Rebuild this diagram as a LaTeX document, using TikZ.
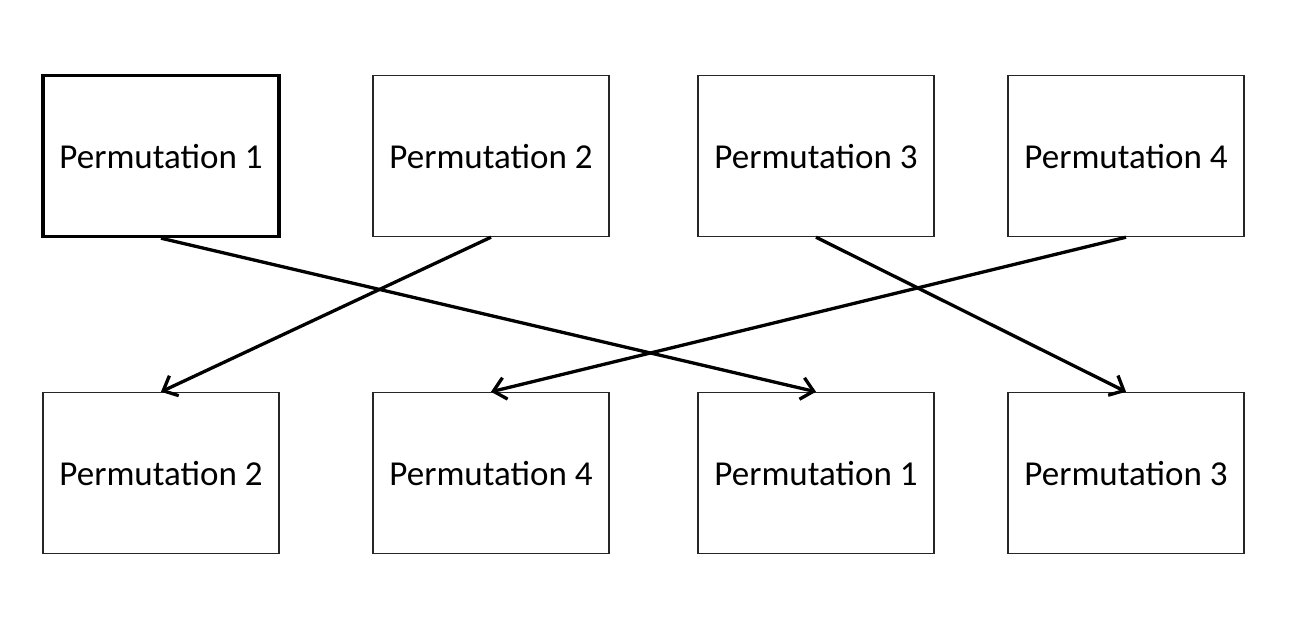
\documentclass[tikz,border=0pt]{standalone}
\usepackage{fontspec}
\setmainfont{Carlito}
\usetikzlibrary{arrows.meta}
\begin{document}
\begin{tikzpicture}[x=1pt,y=-1pt,
  permbox/.style={draw=black!85,line width=1.4pt,minimum width=236pt,minimum height=161pt,inner sep=0pt,text depth=0pt,font=\fontsize{35}{40}\selectfont},
  boldbox/.style={permbox,draw=black,line width=3.4pt},
  link/.style={line width=3.3pt,-{Straight Barb[length=12pt,width=22pt,line width=3.3pt]}}]
\useasboundingbox (0,0) rectangle (1311,623);
\node[boldbox] (t1) at (161,156) {Permutation 1};
\node[permbox] (t2) at (491,156) {Permutation 2};
\node[permbox] (t3) at (816,156) {Permutation 3};
\node[permbox] (t4) at (1126,156) {Permutation 4};
\node[permbox] (b1) at (161,473) {Permutation 2};
\node[permbox] (b2) at (491,473) {Permutation 4};
\node[permbox] (b3) at (816,473) {Permutation 1};
\node[permbox] (b4) at (1126,473) {Permutation 3};
\draw[link] (t1.south) -- (b3.north);
\draw[link] (t2.south) -- (b1.north);
\draw[link] (t3.south) -- (b4.north);
\draw[link] (t4.south) -- (b2.north);
\end{tikzpicture}
\end{document}
